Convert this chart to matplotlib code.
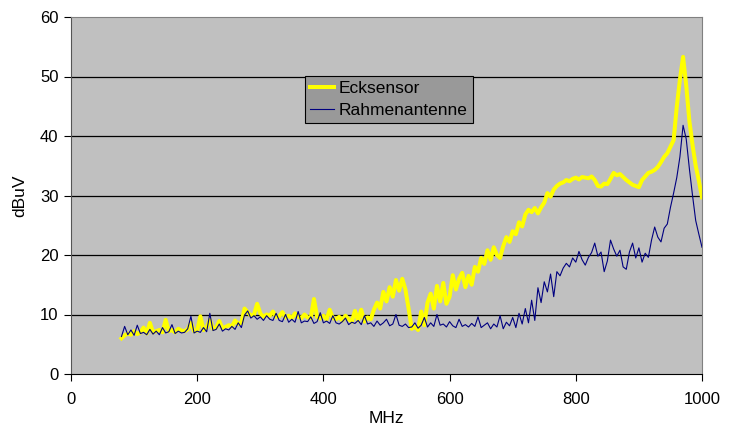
import numpy as np
import matplotlib
matplotlib.use("Agg")
import matplotlib.pyplot as plt

plt.rcParams["font.family"] = ["Liberation Sans", "DejaVu Sans"]

# frequency grid (MHz), 5 MHz steps
freq = np.arange(80, 1001, 5)

# Rahmenantenne (navy, thin)
rahmen = [
    6.3, 8.0, 6.6, 7.4, 6.5, 8.2, 6.8, 7.0, 6.6, 7.5,
    6.7, 7.2, 6.6, 7.8, 6.9, 7.1, 8.3, 6.8, 7.2, 6.9,
    7.0, 7.6, 9.7, 6.9, 7.2, 7.0, 7.8, 7.1, 10.2, 7.3,
    7.5, 8.4, 7.2, 7.6, 7.4, 8.0, 7.5, 8.6, 7.8, 9.9,
    10.6, 9.4, 9.8, 9.2, 9.6, 9.0, 9.8, 9.2, 9.0, 10.2,
    9.0, 8.8, 10.0, 8.7, 9.2, 8.7, 10.5, 8.6, 8.9, 8.8,
    9.6, 8.5, 8.8, 10.3, 8.6, 8.9, 8.5, 9.8, 8.6, 8.4,
    8.8, 9.4, 8.3, 8.7, 8.5, 9.0, 8.3, 9.8, 8.4, 8.6,
    8.0, 8.9, 8.2, 8.6, 9.2, 8.1, 8.4, 10.0, 8.2, 8.0,
    8.4, 7.8, 7.9, 8.6, 7.7, 8.2, 9.5, 7.9, 8.6, 8.0,
    10.0, 8.2, 8.4, 7.9, 8.8, 8.1, 7.8, 9.2, 8.0, 8.3,
    7.9, 8.5, 8.0, 9.6, 7.8, 8.2, 8.6, 7.6, 8.4, 7.9,
    9.8, 7.6, 8.7, 8.1, 9.5, 7.8, 10.2, 8.4, 11.0, 8.6,
    12.4, 9.0, 14.5, 12.0, 15.5, 13.8, 16.8, 13.0, 17.2, 16.5,
    17.8, 18.6, 18.0, 19.5, 18.8, 20.6, 19.2, 18.3, 19.6, 20.4,
    22.0, 19.8, 20.5, 17.2, 19.0, 22.5, 21.0, 19.8, 20.8, 18.0,
    17.6, 20.5, 22.0, 19.5, 21.2, 18.8, 20.3, 19.6, 22.5, 24.7,
    23.0, 22.2, 24.5, 25.2, 28.0, 30.4, 33.0, 36.5, 41.8, 39.5,
    34.5, 30.0, 25.8, 23.5, 21.3,
]

# Ecksensor (yellow, thick)
eck = [
    6.0, 6.5, 6.8, 6.6, 7.2, 6.7, 7.0, 7.8, 6.8, 8.6,
    7.0, 7.2, 7.4, 7.0, 9.1, 7.2, 7.4, 7.0, 7.6, 7.3,
    7.2, 7.5, 8.6, 7.2, 7.3, 9.7, 7.4, 7.8, 9.1, 7.6,
    7.8, 8.9, 7.7, 7.9, 8.2, 8.0, 9.0, 8.4, 8.6, 11.0,
    10.4, 9.8, 10.0, 11.8, 10.2, 9.6, 10.0, 9.8, 10.5, 9.6,
    9.7, 10.4, 9.5, 9.8, 9.4, 10.2, 9.6, 9.4, 10.0, 9.5,
    9.4, 12.6, 9.6, 9.3, 9.8, 9.2, 10.8, 9.4, 9.2, 9.6,
    9.0, 9.8, 9.2, 8.8, 10.6, 9.0, 10.8, 8.8, 9.5, 9.2,
    10.8, 12.0, 11.0, 13.8, 12.2, 14.6, 13.0, 15.8, 14.0, 16.0,
    14.2, 11.0, 7.6, 8.0, 7.4, 10.5, 8.2, 12.0, 13.5, 11.0,
    14.8, 12.2, 15.3, 11.8, 13.0, 16.6, 14.2, 16.0, 17.0, 14.6,
    16.5, 15.0, 18.0, 17.2, 19.5, 18.5, 20.8, 19.2, 21.3, 20.0,
    19.5, 21.5, 23.0, 22.2, 24.0, 23.5, 25.5, 24.8, 26.8, 27.6,
    27.2, 27.9, 27.0, 28.0, 28.8, 30.4, 29.8, 31.0, 31.6, 32.0,
    32.2, 32.6, 32.4, 32.8, 33.0, 32.7, 33.1, 33.0, 32.9, 33.2,
    32.6, 31.6, 31.5, 32.0, 31.9, 32.8, 33.8, 33.4, 33.6, 33.1,
    32.6, 32.2, 31.8, 31.6, 31.4, 32.6, 33.2, 33.8, 34.0, 34.3,
    34.8, 35.6, 36.5, 37.1, 38.2, 39.3, 44.9, 49.5, 53.3, 48.5,
    42.5, 38.5, 35.0, 32.5, 29.7,
]

x_ticks = [0, 200, 400, 600, 800, 1000]
y_ticks = [0, 10, 20, 30, 40, 50, 60]

fig = plt.figure(figsize=(7.32, 4.32), dpi=100)
ax = fig.add_axes([71 / 732, 1 - 374 / 432, 631 / 732, 357 / 432])
ax.set_facecolor("#c0c0c0")

# horizontal grid lines
for y in y_ticks[1:-1]:
    ax.axhline(y, color="black", linewidth=0.9, zorder=1)

ax.plot(freq, eck, color="#ffff00", linewidth=2.9, label="Ecksensor", zorder=2)
ax.plot(freq, rahmen, color="#000080", linewidth=0.8, label="Rahmenantenne", zorder=3)

ax.set_xlim(0, 1000)
ax.set_ylim(0, 60)
ax.set_xticks(x_ticks)
ax.set_yticks(y_ticks)
ax.tick_params(direction="out", length=5, width=0.8, labelsize=12, colors="black")
ax.tick_params(axis="x", pad=8)
ax.tick_params(axis="y", pad=4)
ax.set_xlabel("MHz", fontsize=12.5, labelpad=3)
ax.set_ylabel("dBuV", fontsize=12.5, labelpad=9)

ax.spines["left"].set_color("#555555")
ax.spines["bottom"].set_color("black")
ax.spines["top"].set_color("#808080")
ax.spines["right"].set_color("#808080")

leg = ax.legend(loc="upper left", bbox_to_anchor=(305 / 732, 1 - 76 / 432),
                bbox_transform=fig.transFigure, borderaxespad=0,
                fontsize=12.5, handlelength=1.35, handletextpad=0.3,
                borderpad=0.3, labelspacing=0.35, fancybox=False,
                framealpha=1)
leg.get_frame().set_facecolor("#999999")
leg.get_frame().set_edgecolor("black")
leg.get_frame().set_linewidth(0.8)

fig.savefig("out.png", dpi=100)
